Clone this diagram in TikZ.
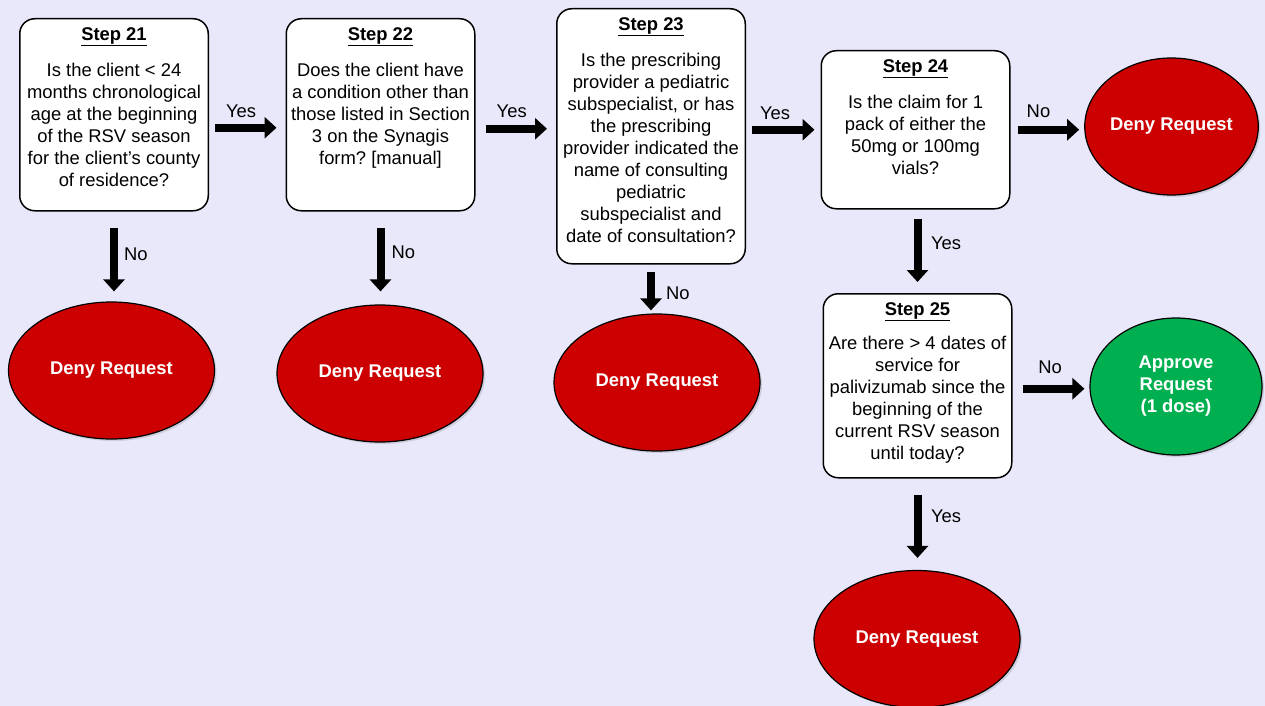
\documentclass[tikz,border=0pt]{standalone}
\usepackage{fontspec}
\setmainfont{Liberation Sans}
\usepackage{tikz}
\usetikzlibrary{arrows.meta,shapes.geometric,shadows}

\definecolor{pageBg}{RGB}{232,232,250}
\definecolor{denyRed}{RGB}{204,0,0}
\definecolor{approveGreen}{RGB}{0,176,80}

\newcommand{\flowFont}{\fontsize{18.4}{22}\selectfont\frenchspacing}

\tikzset{
  stepBox/.style={draw, fill=white, line width=1.5pt, rounded corners=15pt,
    inner xsep=2.25pt, inner ysep=6pt, anchor=north},
  oval/.style={ellipse, draw, line width=1.2pt, inner sep=0pt, text=white,
    font=\flowFont\bfseries, align=center, minimum width=206pt, minimum height=137pt,
    drop shadow={shadow xshift=2pt, shadow yshift=-2pt, opacity=0.25}},
  denyOval/.style={oval, fill=denyRed},
  approveOval/.style={oval, fill=approveGreen},
  bigArrow/.style={line width=8pt, -{Triangle[length=12pt,width=21pt]}},
  armLabel/.style={inner sep=0pt, outer sep=0pt}
}

\begin{document}
\begin{tikzpicture}[x=1pt, y=-1pt, every node/.style={font=\flowFont}]
        \fill[pageBg] (0,0) rectangle (1265,706);
        \useasboundingbox (0,0) rectangle (1265,706);

        % question boxes
        \node (step21) [stepBox] at (114,18) {\parbox[c][180pt][t]{184pt}{\centering\strut\underline{\textbf{Step 21}}\\[14pt]
            Is the client < 24\\ months chronological\\ age at the beginning\\ of the RSV season\\ for the client’s county\\ of residence?}};
        \node (step22) [stepBox] at (380.5,18) {\parbox[c][180pt][t]{184pt}{\centering\strut\underline{\textbf{Step 22}}\\[14pt]
            Does the client have\\ a condition other than\\ those listed in Section\\ 3 on the Synagis\\ form? [manual]}};
        \node (step23) [stepBox] at (651,8) {\parbox[c][243pt][t]{184pt}{\centering\strut\underline{\textbf{Step 23}}\\[14pt]
            Is the prescribing\\ provider a pediatric\\ subspecialist, or has\\ the prescribing\\ provider indicated the\\ name of consulting\\ pediatric\\ subspecialist and\\ date of consultation?}};
        \node (step24) [stepBox] at (915.5,50) {\parbox[c][146pt][t]{184pt}{\centering\strut\underline{\textbf{Step 24}}\\[14pt]
            Is the claim for 1\\ pack of either the\\ 50mg or 100mg\\ vials?}};
        \node (step25) [stepBox] at (917.5,293) {\parbox[c][172pt][t]{184pt}{\centering\strut\underline{\textbf{Step 25}}\\[12pt]
            Are there > 4 dates of\\ service for\\ palivizumab since the\\ beginning of the\\ current RSV season\\ until today?}};

        % outcomes
        \node (deny21) [denyOval] at (111.5,370.5) {Deny Request};
        \node (deny22) [denyOval] at (380,373.5) {Deny Request};
        \node (deny23) [denyOval] at (657,382.5) {Deny Request};
        \node (deny24) [denyOval, minimum width=171pt] at (1171.5,126.5) {Deny Request};
        \node (approve) [approveOval, minimum width=172pt] at (1176,386.5) {Approve\\ Request\\ (1 dose)};
        \node (deny25) [denyOval] at (917,639) {Deny Request};

        % connectors
        \draw[bigArrow, shorten <=6pt, shorten >=9pt] ([yshift=-13pt]step21.east) -- ([yshift=-13pt]step22.west)
            node[armLabel, above=10pt, pos=0.42] {Yes};
        \draw[bigArrow, shorten <=10pt, shorten >=9pt] ([yshift=-14pt]step22.east) -- ([yshift=7.5pt]step23.west)
            node[armLabel, above=11pt, pos=0.45] {Yes};
        \draw[bigArrow, shorten <=6pt, shorten >=6pt] ([yshift=6.5pt]step23.east) -- (step24.west)
            node[armLabel, above=10pt, pos=0.39] {Yes};
        \draw[bigArrow, shorten <=7pt, shorten >=5pt] (step24.east) -- (step24.east -| deny24.west)
            node[armLabel, above=12pt, pos=0.38] {No};
        \draw[bigArrow, shorten <=9pt, shorten >=11pt] (step25.north |- step24.south) -- (step25.north)
            node[armLabel, right=13.5pt, pos=0.41] {Yes};
        \draw[bigArrow, shorten <=10pt, shorten >=5pt] ([yshift=-3pt]step25.east) -- ([yshift=-3pt]step25.east -| approve.west)
            node[armLabel, above=15pt, pos=0.49] {No};
        \draw[bigArrow, shorten <=16pt, shorten >=12pt] (step25.south) -- (step25.south |- deny25.north)
            node[armLabel, right=13.5pt, pos=0.41] {Yes};

        \foreach \s/\d/\a/\b/\p/\r in {step21/deny21/16pt/10pt/0.48/10pt, step22/deny22/16pt/13pt/0.44/11pt, step23/deny23/7pt/3pt/0.59/15pt} {
            \draw[bigArrow, shorten <=\a, shorten >=\b] (\s.south) -- (\s.south |- \d.north)
                node[armLabel, right=\r, pos=\p] {No};
        }
    \end{tikzpicture}
\end{document}
